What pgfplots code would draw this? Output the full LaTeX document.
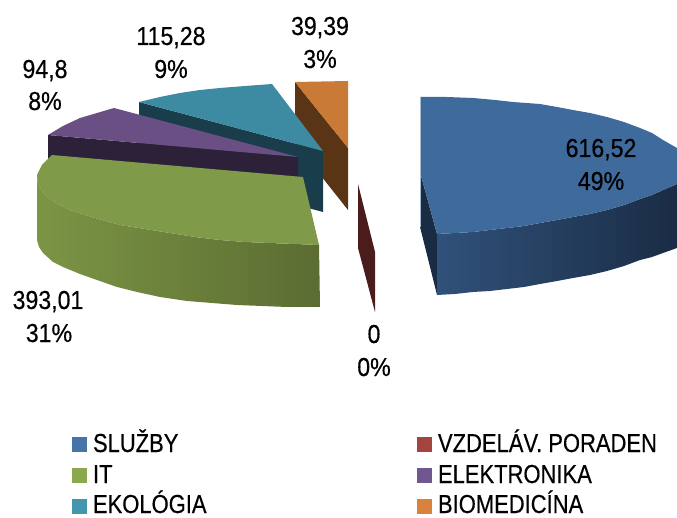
\documentclass[border=0pt]{standalone}
\usepackage{fontspec}
\setmainfont{Liberation Sans}[FakeBold=0.45]
\usepackage{pgfplots}
\pgfplotsset{compat=1.18}

\definecolor{blueTop}{HTML}{3F6A9C}
\definecolor{blueL}{HTML}{30517A}
\definecolor{blueR}{HTML}{1A2C44}
\definecolor{redSide}{HTML}{4A1C1C}
\definecolor{greenTop}{HTML}{7F9A48}
\definecolor{greenM}{HTML}{7B9545}
\definecolor{greenR}{HTML}{5C6C32}
\definecolor{purpleTop}{HTML}{6A4F84}
\definecolor{purpleSide}{HTML}{2C2138}
\definecolor{tealTop}{HTML}{3D8BA3}
\definecolor{tealSide}{HTML}{1A3D4C}
\definecolor{orangeTop}{HTML}{C87A36}
\definecolor{orangeSide}{HTML}{5A3515}
\definecolor{lgBlue}{HTML}{4674A8}
\definecolor{lgRed}{HTML}{A5433F}
\definecolor{lgGreen}{HTML}{8CA84E}
\definecolor{lgPurple}{HTML}{70578F}
\definecolor{lgTeal}{HTML}{4297AF}
\definecolor{lgOrange}{HTML}{D9823C}

\newcommand{\lab}[3]{\node[font=\fontsize{26}{26}\selectfont,anchor=base,xscale=0.89] at (axis cs:#1,#2) {#3};}
\newcommand{\leg}[3]{\node[font=\fontsize{26}{26}\selectfont,anchor=base west,xscale=0.845] at (axis cs:#1,#2) {#3};}

\begin{document}
\begin{tikzpicture}
\begin{axis}[
  width=677pt, height=518pt, scale only axis,
  xmin=0, xmax=677, ymin=0, ymax=518, y dir=reverse,
  hide axis, clip=false]

% orange
\addplot[draw=none,fill=orangeSide] coordinates {(295,82) (348,148) (348,210) (295,143)} -- cycle;
\addplot[draw=none,fill=orangeTop] coordinates {(295,82) (348,81) (348,148)} -- cycle;
% teal
\addplot[draw=none,fill=tealSide] coordinates {(139,102) (323,151) (323,212) (139,163)} -- cycle;
\addplot[draw=none,fill=tealTop] coordinates {(139,102) (160,97) (180,93) (200,90) (220,88) (245,86) (272,84) (323,151)} -- cycle;
% purple
\addplot[draw=none,fill=purpleSide] coordinates {(48,135) (298,157) (298,180) (48,160)} -- cycle;
\addplot[draw=none,fill=purpleTop] coordinates {(48,135) (63,126) (80,118) (97,113) (114,108) (298,157)} -- cycle;
% green
\addplot[draw=none,left color=greenM,middle color=greenM,right color=greenR] coordinates {(37,175) (38,185) (43,192) (48,198) (58,204) (70,210) (95,218) (120,225) (145,229) (170,233) (195,237) (220,240) (245,242) (270,243) (295,244) (319,245) (320,307) (287,307) (262,306) (237,305) (212,303) (187,301) (160,297) (137,292) (117,287) (97,280) (80,274) (63,267) (53,262) (43,253) (39,247) (37,240)} -- cycle;
\addplot[draw=none,fill=greenTop] coordinates {(52,155) (42,165) (37,175) (38,185) (43,192) (48,198) (58,204) (70,210) (95,218) (120,225) (145,229) (170,233) (195,237) (220,240) (245,242) (270,243) (295,244) (319,245) (303,177)} -- cycle;
% red, zero slice
\addplot[draw=none,fill=redSide] coordinates {(358,184) (375,252) (375,312) (358,248)} -- cycle;
% blue
\addplot[draw=none,fill=blueR] coordinates {(420,172) (437,234) (437,295) (420,227)} -- cycle;
\addplot[draw=none,left color=blueL,middle color=blueR,right color=blueR] coordinates {(437,234) (455,233) (473,232) (490,230) (507,228) (524,226) (540,223) (557,220) (573,217) (590,214) (607,210) (624,205) (640,199) (652,195) (663,190) (677,184) (677,248) (663,253) (652,257) (640,260) (624,266) (607,271) (590,275) (573,278) (557,281) (540,284) (524,287) (507,289) (490,291) (473,292) (455,294) (437,295)} -- cycle;
\addplot[draw=none,fill=blueTop] coordinates {(420,97) (447,97) (473,98) (495,100) (513,102) (540,104) (557,107) (573,110) (590,113) (607,117) (624,122) (640,128) (652,133) (663,140) (677,148) (677,184) (663,190) (652,195) (640,199) (624,205) (607,210) (590,214) (573,217) (557,220) (540,223) (524,226) (507,228) (490,230) (473,232) (455,233) (437,234) (420,172)} -- cycle;
\addplot[draw=blueTop!45!white,line width=0.8pt] coordinates {(420,97) (420,227)};

% legend swatches
\addplot[draw=none,fill=lgBlue] coordinates {(72,437) (87,437) (87,452) (72,452)} -- cycle;
\addplot[draw=none,fill=lgRed] coordinates {(417,437) (432,437) (432,452) (417,452)} -- cycle;
\addplot[draw=none,fill=lgGreen] coordinates {(72,468) (87,468) (87,483) (72,483)} -- cycle;
\addplot[draw=none,fill=lgPurple] coordinates {(417,468) (432,468) (432,483) (417,483)} -- cycle;
\addplot[draw=none,fill=lgTeal] coordinates {(72,499) (87,499) (87,514) (72,514)} -- cycle;
\addplot[draw=none,fill=lgOrange] coordinates {(417,499) (432,499) (432,514) (417,514)} -- cycle;

\lab{601}{157}{616,52}
\lab{601}{190}{49\%}
\lab{320}{35}{39,39}
\lab{320}{68}{3\%}
\lab{171}{45}{115,28}
\lab{171}{78}{9\%}
\lab{45}{78}{94,8}
\lab{45}{110}{8\%}
\lab{48}{309}{393,01}
\lab{49}{342}{31\%}
\lab{374}{343}{0}
\lab{374}{376}{0\%}

\leg{90}{452}{SLUŽBY}
\leg{435}{452}{VZDELÁV. PORADEN}
\leg{90}{483}{IT}
\leg{435}{483}{ELEKTRONIKA}
\leg{90}{513}{EKOLÓGIA}
\leg{435}{513}{BIOMEDICÍNA}
\end{axis}
\pgfresetboundingbox
\path[use as bounding box] (current axis.south west) rectangle (current axis.north east);
\end{tikzpicture}
\end{document}
